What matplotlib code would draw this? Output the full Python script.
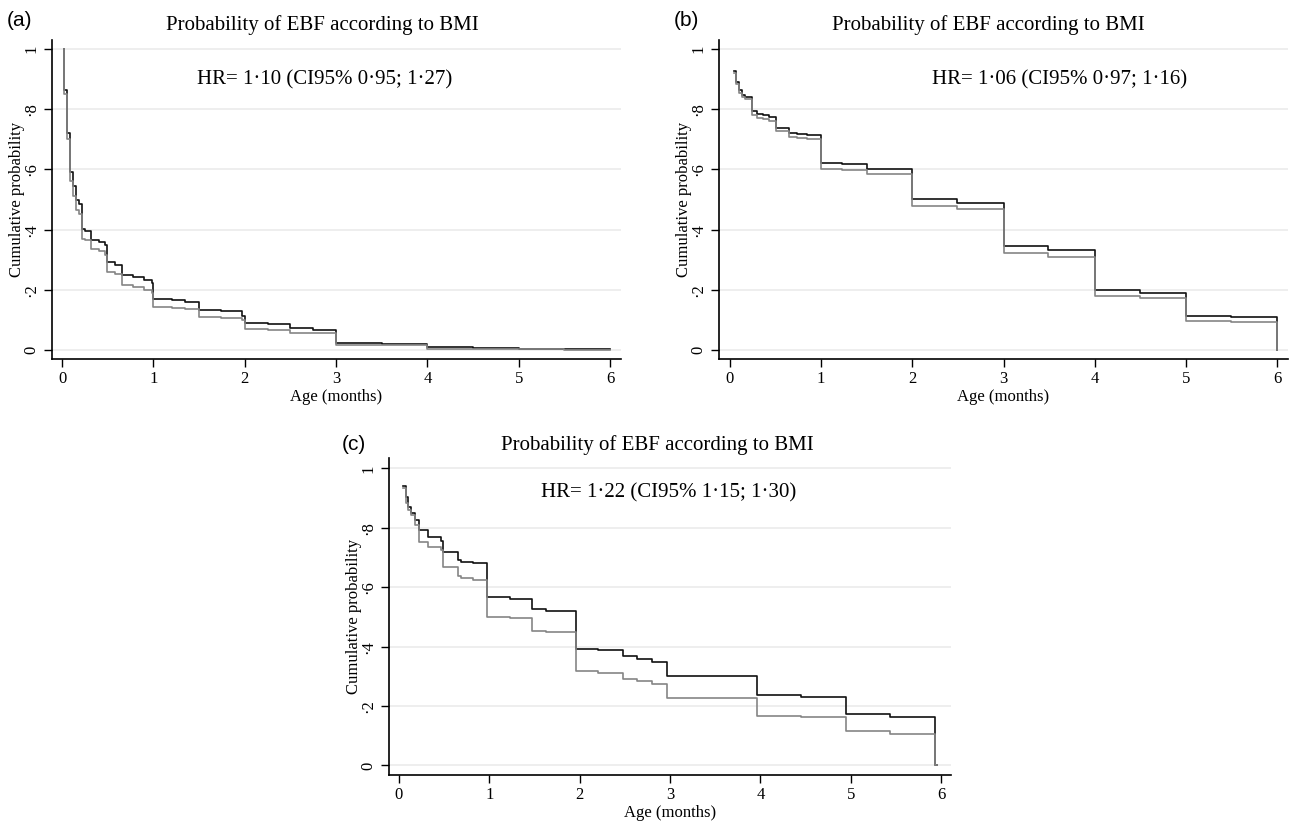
import matplotlib
matplotlib.use("Agg")
import matplotlib.pyplot as plt

plt.rcParams['font.family'] = ['Liberation Serif', 'DejaVu Serif']

# panel (a)
t_a = [0.02, 0.02, 0.058, 0.09, 0.12, 0.157, 0.19, 0.22, 0.25, 0.32,
       0.41, 0.47, 0.49, 0.58, 0.66, 0.78, 0.9, 0.98, 1.0, 1.2,
       1.35, 1.5, 1.74, 1.97, 2.0, 2.25, 2.5, 2.75, 3.0, 3.5,
       4.0, 4.5, 5.0, 5.5, 6.0]
black_a = [1.0, 0.864, 0.72, 0.59, 0.545, 0.498, 0.484, 0.403, 0.395, 0.367,
           0.359, 0.348, 0.292, 0.283, 0.25, 0.242, 0.232, 0.222, 0.17, 0.165,
           0.16, 0.133, 0.128, 0.114, 0.089, 0.087, 0.073, 0.068, 0.022, 0.019,
           0.009, 0.006, 0.004, 0.003, 0.002]
gray_a = [1.0, 0.85, 0.70, 0.56, 0.51, 0.465, 0.453, 0.37, 0.364, 0.336,
          0.328, 0.317, 0.259, 0.251, 0.217, 0.21, 0.2, 0.19, 0.143, 0.14,
          0.137, 0.109, 0.106, 0.10, 0.07, 0.068, 0.058, 0.055, 0.017, 0.015,
          0.004, 0.003, 0.002, 0.001, 0.001]

# panel (b)
t_b = [0.045, 0.067, 0.10, 0.134, 0.166, 0.237, 0.30, 0.36, 0.425, 0.50,
       0.65, 0.74, 0.85, 1.0, 1.23, 1.5, 1.72, 2.0, 2.49, 3.0,
       3.49, 4.0, 4.5, 5.0, 5.5, 6.0]
black_b = [0.926, 0.892, 0.864, 0.848, 0.84, 0.794, 0.783, 0.78, 0.773, 0.739,
           0.722, 0.717, 0.714, 0.62, 0.617, 0.603, 0.601, 0.501, 0.487, 0.344,
           0.332, 0.198, 0.189, 0.113, 0.108, 0.0]
gray_b = [0.92, 0.885, 0.855, 0.842, 0.835, 0.782, 0.772, 0.768, 0.762, 0.726,
          0.708, 0.703, 0.70, 0.601, 0.599, 0.585, 0.584, 0.48, 0.468, 0.322,
          0.31, 0.178, 0.172, 0.097, 0.094, 0.0]

# panel (c)
t_c = [0.04, 0.078, 0.10, 0.13, 0.177, 0.225, 0.325, 0.47, 0.49, 0.657,
       0.69, 0.82, 0.98, 1.23, 1.475, 1.63, 1.96, 2.2, 2.48, 2.63,
       2.8, 2.97, 3.5, 3.96, 4.45, 4.95, 5.44, 5.93, 5.96]
black_c = [0.941, 0.905, 0.869, 0.849, 0.827, 0.793, 0.770, 0.754, 0.72, 0.692,
           0.686, 0.68, 0.568, 0.562, 0.526, 0.521, 0.392, 0.388, 0.37, 0.358,
           0.348, 0.302, 0.3, 0.236, 0.23, 0.173, 0.162, 0.0, 0.0]
gray_c = [0.935, 0.884, 0.86, 0.843, 0.81, 0.751, 0.737, 0.726, 0.669, 0.638,
          0.632, 0.624, 0.501, 0.495, 0.453, 0.449, 0.318, 0.312, 0.292, 0.283,
          0.275, 0.228, 0.226, 0.168, 0.163, 0.115, 0.107, 0.0, 0.0]

x_ticks = [0, 1, 2, 3, 4, 5, 6]
y_ticks = [0, 0.2, 0.4, 0.6, 0.8, 1.0]
y_tick_labels = ['0', '·2', '·4', '·6', '·8', '1']

titulo = "Probability of EBF according to BMI"
hr_texts = ["HR= 1·10 (CI95% 0·95; 1·27)",
            "HR= 1·06 (CI95% 0·97; 1·16)",
            "HR= 1·22 (CI95% 1·15; 1·30)"]

W, H = 1290, 821
fig = plt.figure(figsize=(W / 100, H / 100), dpi=100)


def panel(rect_px, t, black, gray, hr, hr_pos, xlim, ylim):
    left, top, right, bottom = rect_px
    ax = fig.add_axes([left / W, 1 - bottom / H, (right - left) / W, (bottom - top) / H])
    for y in y_ticks:
        ax.axhline(y, color='#ebebeb', lw=1.2, zorder=0)
    ax.step(t, black, where='post', color='#111111', lw=1.2, zorder=2)
    ax.step(t, gray, where='post', color='#858585', lw=1.2, zorder=3)
    ax.set_xlim(*xlim)
    ax.set_ylim(*ylim)
    ax.set_xticks(x_ticks)
    ax.set_yticks(y_ticks)
    ax.set_yticklabels(y_tick_labels, rotation=90, va='center')
    ax.tick_params(axis='x', direction='out', length=6, width=1, labelsize=12, pad=2.5)
    ax.tick_params(axis='y', direction='out', length=6, width=1, labelsize=12, pad=3)
    for s in ['top', 'right']:
        ax.spines[s].set_visible(False)
    for s in ['left', 'bottom']:
        ax.spines[s].set_linewidth(1.2)
    ax.set_ylabel("Cumulative probability", fontsize=12)
    ax.set_xlabel("Age (months)", fontsize=12)
    ax.yaxis.set_label_coords(-27 / (right - left), 0.5)
    ax.xaxis.set_label_coords(0.5, -30 / (bottom - top))
    ax.xaxis.label.set_va('top')
    ax.text(hr_pos[0], hr_pos[1], hr, ha='center', va='center', fontsize=15)
    return ax


panel((52, 40, 621, 359), t_a, black_a, gray_a, hr_texts[0], (2.88, 0.897),
      (-0.11, 6.12), (-0.03, 1.03))
panel((719, 40, 1288, 359), t_b, black_b, gray_b, hr_texts[1], (3.62, 0.897),
      (-0.12, 6.12), (-0.03, 1.03))
panel((389, 458, 951, 775), t_c, black_c, gray_c, hr_texts[2], (2.98, 0.916),
      (-0.11, 6.11), (-0.032, 1.035))

# titulos y etiquetas de panel
for cx, cy in [(322, 25), (988, 25), (657, 445)]:
    fig.text(cx / W, 1 - cy / H, titulo, ha='center', va='center', fontsize=15)
for lab, lx, ly in [("(a)", 7, 21), ("(b)", 674, 21), ("(c)", 342, 444)]:
    fig.text(lx / W, 1 - ly / H, lab, ha='left', va='center', fontsize=15,
             family=['Liberation Sans', 'DejaVu Sans'])

plt.savefig("out.png", dpi=100)
